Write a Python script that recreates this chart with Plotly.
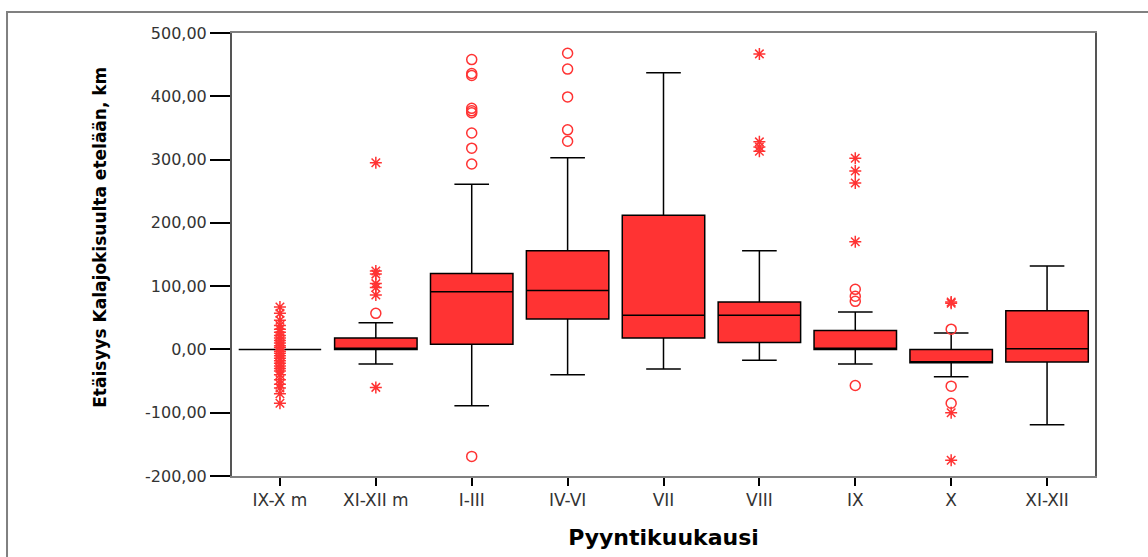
import plotly.graph_objects as go

categories = ["IX-X m", "XI-XII m", "I-III", "IV-VI", "VII", "VIII", "IX", "X", "XI-XII"]
q1 = [0, 0, 8, 48, 18, 11, 0, -21, -20]
median = [0, 2, 91, 93, 54, 54, 2, -20, 1]
q3 = [0, 18, 120, 156, 212, 75, 30, 0, 61]
lower_fence = [0, -23, -89, -40, -31, -17, -23, -43, -119]
upper_fence = [0, 42, 261, 303, 437, 156, 59, 26, 132]

circle_outliers = [
    [],
    [57],
    [458, 436, 433, 381, 377, 374, 342, 318, 293, -169],
    [468, 443, 399, 347, 329],
    [],
    [],
    [95, 84, 76, -57],
    [32, -58, -85],
    [],
]
star_outliers = [
    [67, 57, 46, 38, 32, 27, 22, 18, 14, 10, 6, 3, -3, -6, -10, -14, -18, -22, -26, -30, -34, -40, -48, -55, -61, -70, -85],
    [295, 124, 119, 104, 98, 86, -60],
    [],
    [],
    [],
    [467, 328, 320, 313],
    [302, 282, 263, 170],
    [73, 75, -100, -175],
    [],
]

y_tick_vals = [500, 400, 300, 200, 100, 0, -100, -200]
y_tick_text = ["500,00", "400,00", "300,00", "200,00", "100,00", "0,00", "-100,00", "-200,00"]

y_title = "Etäisyys Kalajokisuulta etelään, km"
x_title = "Pyyntikuukausi"

RED = "rgb(255,51,51)"
FONT = "DejaVu Sans, Liberation Sans, Arial, sans-serif"

fig = go.Figure()
fig.add_trace(go.Box(
    x=categories, q1=q1, median=median, q3=q3,
    lowerfence=lower_fence, upperfence=upper_fence,
    fillcolor=RED, line=dict(color="black", width=1.5),
    width=0.86, whiskerwidth=0.42, boxpoints=False, showlegend=False,
))

cx, cy, sx, sy = [], [], [], []
for cat, vals in zip(categories, circle_outliers):
    cx += [cat] * len(vals)
    cy += vals
for cat, vals in zip(categories, star_outliers):
    sx += [cat] * len(vals)
    sy += vals

fig.add_trace(go.Scatter(
    x=cx, y=cy, mode="markers", showlegend=False,
    marker=dict(symbol="circle-open", size=10, color=RED, line=dict(width=1.5, color=RED)),
))
fig.add_trace(go.Scatter(
    x=sx, y=sy, mode="markers", showlegend=False,
    marker=dict(symbol="asterisk-open", size=10, color=RED, line=dict(width=1.5, color=RED)),
))

# outer frame
fig.add_shape(type="rect", xref="paper", yref="paper",
              x0=-0.2607, x1=1.07, y0=-0.25, y1=1.0474,
              line=dict(color="#808080", width=2), fillcolor="rgba(0,0,0,0)", layer="below")

fig.add_annotation(
    text="<b>" + y_title + "</b>", xref="paper", yref="paper",
    x=-0.153, y=0.54, xanchor="center", yanchor="middle", textangle=-90,
    showarrow=False, font=dict(family=FONT, size=17, color="black"),
)

fig.update_layout(
    width=1148, height=557,
    margin=dict(l=232, r=53, t=33, b=81),
    plot_bgcolor="white", paper_bgcolor="white",
    font=dict(family=FONT, color="black", size=15),
    xaxis=dict(
        type="category", categoryorder="array", categoryarray=categories,
        range=[-0.5, 8.5],
        showline=True, linecolor="#808080", linewidth=2, mirror=True,
        ticks="outside", ticklen=8, tickwidth=2, tickcolor="black",
        showgrid=False, zeroline=False,
        tickfont=dict(family=FONT, size=17, color="#333"),
        title=dict(text="<b>" + x_title + "</b>", font=dict(family=FONT, size=22, color="black"), standoff=20),
    ),
    yaxis=dict(
        range=[-200, 500],
        tickvals=y_tick_vals, ticktext=y_tick_text,
        showline=True, linecolor="#555", linewidth=2, mirror=True,
        ticks="outside", ticklen=20, tickwidth=2, tickcolor="black",
        showgrid=False, zeroline=False,
        tickfont=dict(family=FONT, size=16, color="#333"),
    ),
)

fig.write_html("out.html")
